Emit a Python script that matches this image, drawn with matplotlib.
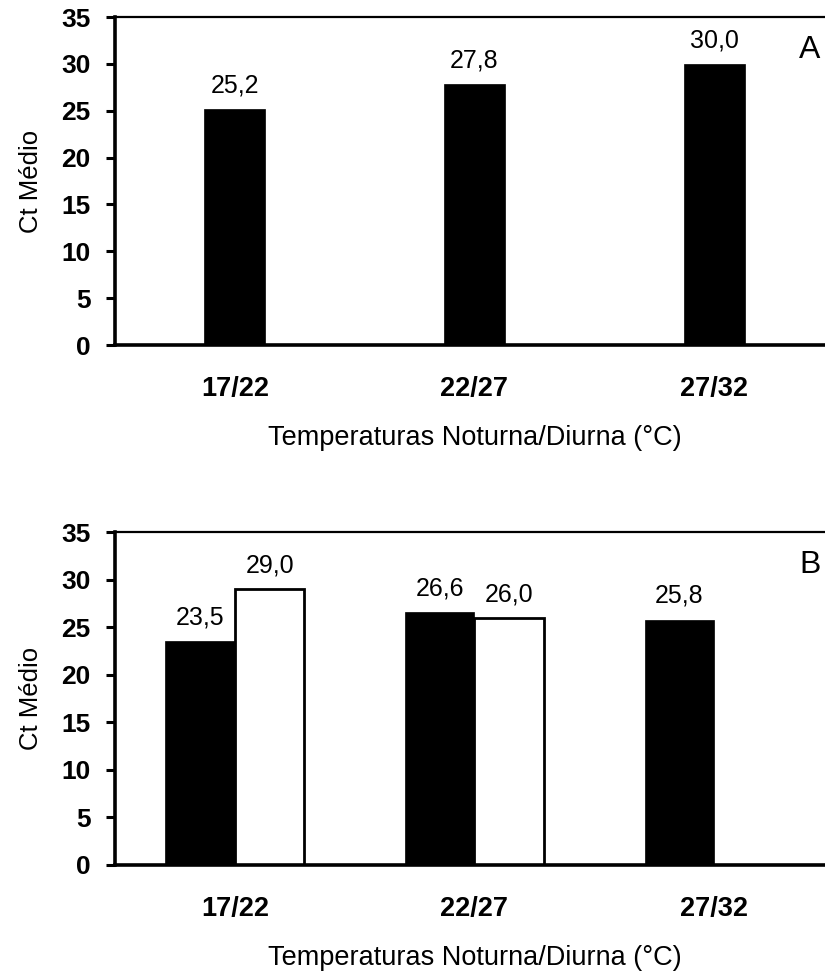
import matplotlib
matplotlib.use("Agg")
import matplotlib.pyplot as plt
import numpy as np

plt.rcParams['font.family'] = ['Liberation Sans', 'DejaVu Sans']

# dados
temperaturas = ["17/22", "22/27", "27/32"]
ct_a = [25.2, 27.8, 30.0]
ct_b_preto = [23.5, 26.6, 25.8]
ct_b_branco = [29.0, 26.0, None]

W, H = 825, 971
fig = plt.figure(figsize=(W / 100, H / 100), dpi=100)

ax_a = fig.add_axes([115 / W, 1 - 345 / H, (834 - 115) / W, (345 - 17) / H])
ax_b = fig.add_axes([115 / W, 1 - 865 / H, (834 - 115) / W, (865 - 532) / H])

x = np.arange(len(temperaturas))


def fmt(v):
    return f"{v:.1f}".replace(".", ",")


def estilo(ax, letra):
    ax.set_xlim(-0.5, 2.5)
    ax.set_ylim(0, 35)
    ax.set_yticks(range(0, 36, 5))
    ax.set_xticks(x)
    ax.set_xticklabels(temperaturas, fontweight="bold", fontsize=19.5)
    for t in ax.get_yticklabels():
        t.set_fontweight("bold")
        t.set_fontsize(19)
    ax.spines["right"].set_visible(False)
    ax.spines["top"].set_linewidth(1.6)
    ax.spines["left"].set_linewidth(2.6)
    ax.spines["bottom"].set_linewidth(2.6)
    ax.tick_params(axis="y", direction="out", length=6.5, width=2.2, pad=11)
    ax.tick_params(axis="x", length=0, pad=22)
    ax.set_ylabel("Ct Médio", fontsize=18.5, labelpad=13)
    ax.set_xlabel("Temperaturas Noturna/Diurna (°C)", fontsize=19.5, labelpad=17)
    ax.text(2.40, 31.5, letra, fontsize=23, ha="center", va="center")


def rotulo(ax, xpos, v):
    ax.annotate(fmt(v), (xpos, v), xytext=(0, 17), textcoords="offset points",
                ha="center", va="center", fontsize=18)


# painel A
wa = 0.255
ax_a.bar(x, ct_a, width=wa, color="black", edgecolor="black", linewidth=0.5)
for xi, v in zip(x, ct_a):
    rotulo(ax_a, xi, v)
estilo(ax_a, "A")

# painel B
wb = 0.29
xp = x - wb / 2
xw = x + wb / 2
ax_b.bar(xp, ct_b_preto, width=wb, color="black", edgecolor="black", linewidth=0.5)
for xi, v in zip(xp, ct_b_preto):
    rotulo(ax_b, xi, v)
for xi, v in zip(xw, ct_b_branco):
    if v is None:
        continue
    ax_b.bar(xi, v, width=wb, color="white", edgecolor="black", linewidth=2.0)
    rotulo(ax_b, xi, v)
estilo(ax_b, "B")

fig.savefig("out.png", dpi=100)
